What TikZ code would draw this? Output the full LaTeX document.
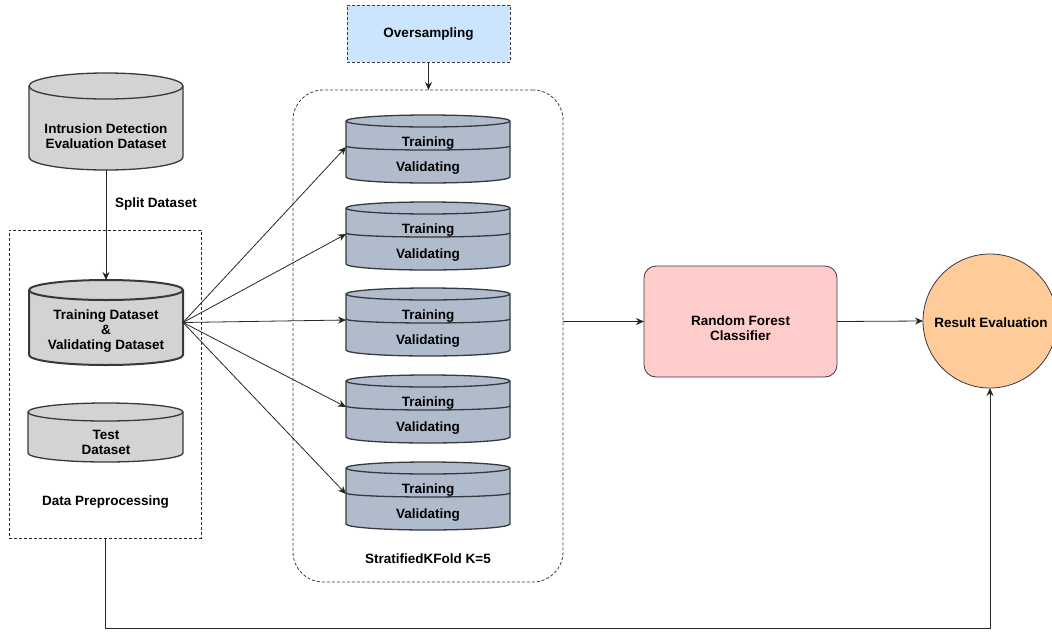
\documentclass[tikz,border=0pt]{standalone}
\usepackage{fontspec}
\setmainfont{Liberation Sans}
\usetikzlibrary{arrows.meta,calc}
\pgfdeclarelayer{background}
\pgfsetlayers{background,main}
\definecolor{cylgray}{RGB}{211,211,211}
\definecolor{stackblue}{RGB}{176,188,204}
\definecolor{overblue}{RGB}{204,229,255}
\definecolor{rfpink}{RGB}{255,204,204}
\definecolor{reorange}{RGB}{255,204,153}
\definecolor{edgegray}{RGB}{54,57,61}
\definecolor{dashgray}{RGB}{60,60,60}
\newcommand\cylbody[3]{%
\begin{pgfonlayer}{background}
\path[#3] let \p1=(#1.north west), \p2=(#1.south east), \n1={(\x2-\x1)/2} in
  (\x1,\y1-#2pt) -- (\x1,\y2+#2pt) arc[start angle=180,end angle=360,x radius={\n1*1pt},y radius=#2pt]
  -- (\x2,\y1-#2pt) arc[start angle=0,end angle=180,x radius={\n1*1pt},y radius=#2pt] -- cycle;
\path[#3,fill=none] let \p1=(#1.north west), \p2=(#1.south east), \n1={(\x2-\x1)/2} in
  (\x1,\y1-#2pt) arc[start angle=180,end angle=360,x radius={\n1*1pt},y radius=#2pt];
\end{pgfonlayer}}
\newcommand\stackmid[1]{%
\draw[cylline] let \p1=(#1.north west), \p2=(#1.north east), \n1={(\x2-\x1)/2} in
  (\x1,\y1-31pt) arc[start angle=180,end angle=360,x radius={\n1*1pt},y radius=4pt];}
\begin{document}
\begin{tikzpicture}[x=1pt,y=-1pt,
  every node/.style={font=\fontsize{13.5}{15}\selectfont\bfseries, align=center, inner sep=0pt, outer sep=0pt},
  anchorbox/.style={rectangle},
  cylline/.style={draw=edgegray, line width=1.3pt},
  graycyl/.style={cylline, fill=cylgray},
  bluecyl/.style={cylline, fill=stackblue},
  arr/.style={-{Stealth[length=8pt,width=7pt]}, line width=0.8pt, draw=black!85},
  dashbox/.style={draw=black!85, line width=0.8pt, dash pattern=on 3pt off 2pt}]
\useasboundingbox (0,0) rectangle (1052,635);

% left column
\node[anchorbox, minimum width=154pt, minimum height=97pt] (ids) at (106,121.5) {};
\cylbody{ids}{13}{graycyl}
\node (idst) at (106,136) {Intrusion Detection\\Evaluation Dataset};

\node[dashbox, minimum width=192pt, minimum height=308pt] (dp) at (105,384) {};

\node[anchorbox, minimum width=154pt, minimum height=85pt] (tr) at (106,322.5) {};
\cylbody{tr}{10}{graycyl,line width=2pt}
\node (trt) at (106,331) {Training Dataset\\\&\\Validating Dataset};

\node[anchorbox, minimum width=155pt, minimum height=59pt] (ts) at (105.5,432.5) {};
\cylbody{ts}{9}{graycyl}
\node (tst) at (106,442) {Test\\Dataset};

\node (dpt) at (105.5,502) {Data Preprocessing};

\draw[arr] (ids.south) -- (tr.north);
\node[anchor=west] (split) at (115,204) {Split Dataset};

% oversampling and folds
\node[draw=dashgray, fill=overblue, line width=0.8pt, dash pattern=on 3pt off 2pt,
      minimum width=163pt, minimum height=57pt] (ov) at (428.5,33.5) {};
\node (ovt) at (428.5,34) {Oversampling};

\node[draw=dashgray, line width=0.8pt, dash pattern=on 3pt off 2pt, rounded corners=30pt,
      minimum width=270pt, minimum height=492pt] (kf) at (428,336) {};
\node (kft) at (428,559) {StratifiedKFold K=5};

\draw[arr] (ov.south) -- (ov.south |- kf.north);

\foreach \i/\t in {1/115,2/202,3/288,4/375,5/462}{
  \node[anchorbox, minimum width=164pt, minimum height=68pt] (s\i) at (428,\t+34) {};
  \cylbody{s\i}{6}{bluecyl}
  \stackmid{s\i}
  \node (s\i a) at (428,\t+28) {Training};
  \node (s\i b) at (428,\t+53) {Validating};
  \draw[arr] (tr.east) -- ([yshift=2pt]s\i.west);
}

% classifier and evaluation
\node[draw=edgegray, fill=rfpink, line width=0.8pt, rounded corners=12pt,
      minimum width=193pt, minimum height=111pt] (rf) at (740.5,321.5) {};
\node (rft) at (740.5,328) {Random Forest\\Classifier};

\node[circle, draw=edgegray, fill=reorange, line width=0.8pt, minimum size=134pt] (re) at (990,321) {};
\node (ret) at (991,323) {Result Evaluation};

\draw[arr] (kf.east |- rf.west) -- (rf.west);
\draw[arr] (rf.east) -- (re.west);
\draw[arr] (dp.south) -- ++(0,90) -| (re.south);
\end{tikzpicture}
\end{document}
